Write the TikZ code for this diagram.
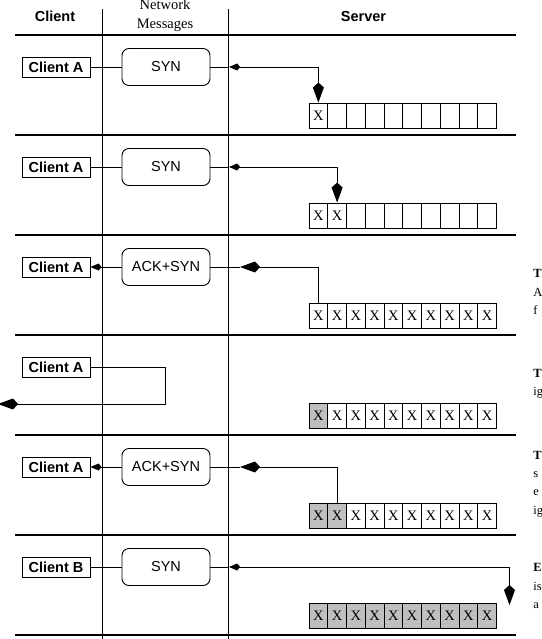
\documentclass[tikz,border=0pt]{standalone}
\usepackage{fontspec}
\setmainfont{Liberation Serif}
\setsansfont{Liberation Sans}
\usetikzlibrary{arrows.meta}

\begin{document}
\begin{tikzpicture}[x=1pt,y=-1pt,line width=0.9pt,
    bigkite/.tip={Kite[length=20pt,width=11pt]},
    smallkite/.tip={Kite[length=11pt,width=7pt]}]
    \tikzstyle{every node}=[inner sep=0pt]
    \tikzstyle{head}=[font=\sffamily\bfseries\fontsize{14.5}{17}\selectfont]
    \tikzstyle{client}=[draw,minimum width=68pt,minimum height=20pt,font=\sffamily\bfseries\fontsize{14.5}{17}\selectfont]
    \tikzstyle{msg}=[draw,rounded corners=7pt,minimum width=88pt,minimum height=37pt,font=\sffamily\fontsize{14.5}{17}\selectfont]
    \tikzstyle{cell}=[draw,minimum width=18.75pt,minimum height=25pt,font=\fontsize{14.5}{17}\selectfont]
    \tikzstyle{rule}=[line width=2pt]
    \tikzstyle{note}=[anchor=base west,font=\fontsize{12.5}{15}\selectfont]
    \useasboundingbox(0,0)rectangle(541,639);
    \draw node[head](hc)at(55,16.5){Client}
          node[align=center,font=\fontsize{14.5}{18.5}\selectfont](hn)at(165,15.4){Network\\Messages}
          node[head](hs)at(363.5,16.5){Server};
    \draw(102,9)--(102,639);
    \draw(228,9)--(228,639);
    \foreach \y in {35,135,...,635}
      \draw[rule](15,\y)--(516,\y);
    \foreach \r/\n/\g in {1/1/0,2/2/0,3/10/0,4/10/1,5/10/2,6/10/10}
      \foreach \c in {1,...,10}{
        \pgfmathsetmacro\x{309+18.75*(\c-0.5)}
        \pgfmathsetmacro\y{35+100*(\r-1)+80.5}
        \pgfmathsetmacro\f{\c<=\g ? 25 : 0}
        \node[cell,fill=black!\f](b\r-\c)at(\x,\y){\ifnum\c>\n\else X\fi};
      }
    \draw node[client](cA1)at(56,67){Client A}
          node[msg](m1)at(166,67){SYN}
          coordinate(k1)at(229,67);
    \draw(cA1)--(m1);
    \draw(m1)--(k1);
    \draw[{smallkite}-{bigkite}](k1)-|(b1-1.north);
    \draw node[client](cA2)at(56,167){Client A}
          node[msg](m2)at(166,167){SYN}
          coordinate(k2)at(229,167);
    \draw(cA2)--(m2);
    \draw(m2)--(k2);
    \draw[{smallkite}-{bigkite}](k2)-|(b2-2.north);
    \draw node[client](cA3)at(56,267){Client A}
          node[msg](m3)at(166,267){ACK+SYN}
          coordinate(k3)at(240,267);
    \draw[-{bigkite}](b3-1.north)|-(k3);
    \draw(k3)--(m3);
    \draw[-{smallkite}](m3)--(cA3);
    \draw node[client](cA4)at(56,367){Client A}
          coordinate(t4)at(165,367)
          coordinate(k4)at(-2,404);
    \draw[-{bigkite}](cA4)--(t4)|-(k4);
    \draw node[client](cA5)at(56,467){Client A}
          node[msg](m5)at(166,467){ACK+SYN}
          coordinate(k5)at(240,467);
    \draw[-{bigkite}](b5-2.north)|-(k5);
    \draw(k5)--(m5);
    \draw[-{smallkite}](m5)--(cA5);
    \draw node[client](cB6)at(56,567){Client B}
          node[msg](m6)at(166,567){SYN}
          coordinate(k6)at(229,567)
          coordinate(e6)at(509.5,605);
    \draw(cB6)--(m6);
    \draw(m6)--(k6);
    \draw[{smallkite}-{bigkite}](k6)-|(e6);
    \draw node[note](n3a)at(533,277){\textbf{T}}
          node[note](n3b)at(533,296){A}
          node[note](n3c)at(533,314){f};
    \draw node[note](n4a)at(533,377){\textbf{T}}
          node[note](n4b)at(533,395){ig};
    \draw node[note](n5a)at(533,459){\textbf{T}}
          node[note](n5b)at(533,477){s}
          node[note](n5c)at(533,495){e}
          node[note](n5d)at(533,514){ig};
    \draw node[note](n6a)at(533,571){\textbf{E}}
          node[note](n6b)at(533,590){is}
          node[note](n6c)at(533,608){a};
\end{tikzpicture}
\end{document}
